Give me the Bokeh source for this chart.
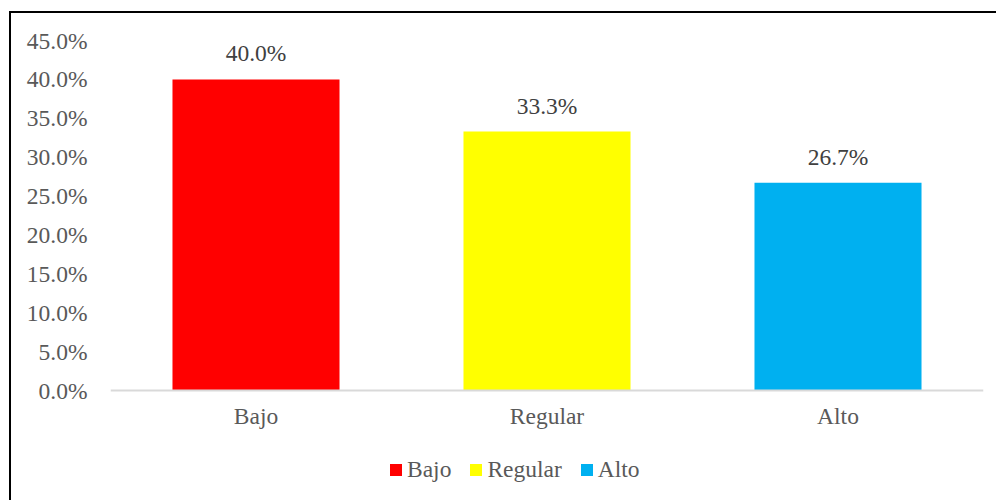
from bokeh.plotting import figure
from bokeh.models import (ColumnDataSource, FactorRange, Range1d, FixedTicker,
                          PrintfTickFormatter, Legend, LegendItem)
from bokeh.core.properties import value
from bokeh.embed import file_html
from bokeh.resources import INLINE

categories = ["Bajo", "Regular", "Alto"]
percentages = [40.0, 33.3, 26.7]
bar_colors = ["#FF0000", "#FFFF00", "#00B0F0"]
value_labels = ["40.0%", "33.3%", "26.7%"]
y_ticks = [0, 5, 10, 15, 20, 25, 30, 35, 40, 45]

FONT = "Liberation Serif"
FS = "23.5px"

source = ColumnDataSource(dict(cat=categories, val=percentages,
                               color=bar_colors, lab=value_labels))

# frame extends below zero so the legend can sit inside it
p = figure(width=987, height=489, output_backend="svg", toolbar_location=None,
           x_range=FactorRange(factors=categories, range_padding=0),
           y_range=Range1d(-14.14, 45),
           min_border_left=99, min_border_right=15,
           min_border_top=27, min_border_bottom=2)
p.styles = {"border-left": "2px solid black", "border-top": "2px solid black",
            "margin-top": "11px", "margin-left": "9px"}
p.outline_line_color = None
p.background_fill_color = "white"
p.border_fill_color = "white"

r = p.vbar(x="cat", top="val", width=0.574, color="color", line_color=None,
           source=source)

p.text(x="cat", y="val", text="lab", source=source, text_align="center",
       text_baseline="alphabetic", y_offset=-26, text_font=value(FONT),
       text_font_size=FS, text_color="#404040")

p.xgrid.grid_line_color = None
p.ygrid.grid_line_color = None

p.yaxis.ticker = FixedTicker(ticks=y_ticks)
p.yaxis.formatter = PrintfTickFormatter(format="%.1f%%")
p.yaxis.axis_line_color = None
p.yaxis.major_tick_line_color = None
p.yaxis.minor_tick_line_color = None
p.yaxis.major_tick_out = 0
p.yaxis.major_label_standoff = 23

p.xaxis.fixed_location = 0
p.xaxis.axis_line_color = "#D9D9D9"
p.xaxis.axis_line_width = 2
p.xaxis.major_tick_line_color = None
p.xaxis.major_tick_out = 0
p.xaxis.major_label_standoff = 12

for ax in (p.xaxis[0], p.yaxis[0]):
    ax.major_label_text_font = FONT
    ax.major_label_text_font_size = FS
    ax.major_label_text_color = "#595959"

legend = Legend(items=[LegendItem(label=value(c), renderers=[r], index=i)
                       for i, c in enumerate(categories)],
                orientation="horizontal", location=(278, 17),
                glyph_width=15, glyph_height=15, label_standoff=4, spacing=17,
                padding=0, margin=0, border_line_color=None,
                background_fill_alpha=0,
                label_text_font=FONT, label_text_font_size=FS,
                label_text_color="#595959")
p.add_layout(legend, "center")

open("out.html", "w").write(file_html(p, INLINE))
